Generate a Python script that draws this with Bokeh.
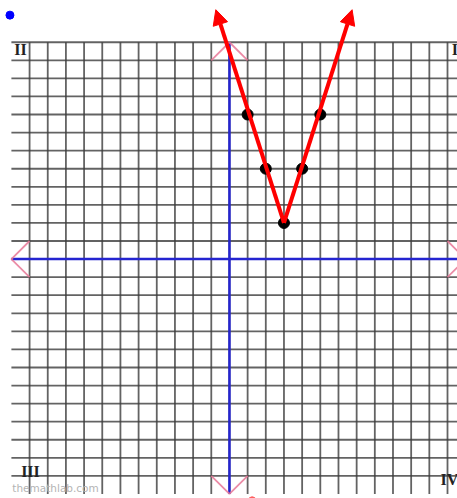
from bokeh.plotting import figure
from bokeh.models import Range1d, Arrow, NormalHead
from bokeh.core.properties import value
from bokeh.embed import file_html
from bokeh.resources import INLINE

# function points y = 3|x-3| + 2
x_pts = [1, 2, 3, 4, 5]
y_pts = [8, 5, 2, 5, 8]
# ends of the two rays (arrow tips)
x_ends = [-0.75, 6.75]
y_ends = [13.8, 13.8]
vertex_x = 3
vertex_y = 2

# graph paper
grid_x = list(range(-11, 14))
grid_y = list(range(-12, 13))
paper_left, paper_right = -12, 13
paper_bottom, paper_top = -13, 12

quad_labels = ["II", "III", "I", "IV"]
quad_x = [-11.5, -10.95, 12.4, 12.1]
quad_y = [11.6, -11.75, 11.6, -12.2]

p = figure(width=457, height=498, output_backend="svg", toolbar_location=None,
           x_range=Range1d(-12.60, 12.55), y_range=Range1d(-13.25, 14.31),
           min_border=0, outline_line_color=None, background_fill_color="white")
p.axis.visible = False
p.grid.visible = False

grid_col = "#3c3c3c"
p.multi_line(xs=[[gx, gx] for gx in grid_x], ys=[[paper_bottom, paper_top] for _ in grid_x],
             line_color=grid_col, line_width=1.8, line_alpha=0.8)
p.multi_line(xs=[[paper_left, paper_right] for _ in grid_y], ys=[[gy, gy] for gy in grid_y],
             line_color=grid_col, line_width=1.8, line_alpha=0.8)

# axes
p.line([paper_left, paper_right], [0, 0], line_color="#2424d0", line_width=2.5)
p.line([0, 0], [paper_bottom, paper_top], line_color="#2424d0", line_width=2.5)

# pink axis arrowheads (open V)
pink = "#e87898"
p.multi_line(xs=[[-1, 0, 1], [-1, 0, 1], [paper_left + 1, paper_left, paper_left + 1],
                 [paper_right - 1, paper_right, paper_right - 1]],
             ys=[[paper_top - 1, paper_top, paper_top - 1],
                 [paper_bottom + 1, paper_bottom, paper_bottom + 1],
                 [1, 0, -1], [1, 0, -1]],
             line_color=pink, line_width=1.8, line_alpha=0.85)

# quadrant labels
p.text(x=quad_x, y=quad_y, text=quad_labels, text_font=value("Liberation Serif"),
       text_font_style="bold", text_font_size="16px", text_color="#222222",
       text_align="center", text_baseline="middle")
p.text(x=[-11.95], y=[-12.65], text=["themathlab.com"], text_font=value("DejaVu Sans"),
       text_font_size="10.5px", text_color="#b4b4b4", text_baseline="middle")

# red V with arrows
for xe, ye in zip(x_ends, y_ends):
    p.add_layout(Arrow(end=NormalHead(size=15, fill_color="red", line_color="red"),
                       x_start=vertex_x, y_start=vertex_y, x_end=xe, y_end=ye,
                       line_color="red", line_width=4))

p.scatter(x_pts, y_pts, size=11, fill_color="black", line_color="black")

# stray dots
p.scatter([-12.08], [13.5], size=8, fill_color="#0000ff", line_color="#0000ff")
p.scatter([1.25], [-13.35], size=7, fill_color="#ff6060", line_color="#ff6060")

open("out.html", "w").write(file_html(p, INLINE))
